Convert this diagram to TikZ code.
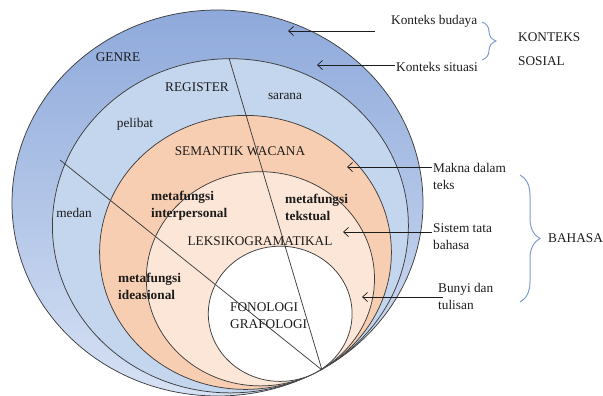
\documentclass[tikz,border=0pt]{standalone}
\usepackage{fontspec}
\setmainfont{Liberation Serif}
\usetikzlibrary{arrows.meta,decorations.pathreplacing}

\definecolor{genretop}{RGB}{142,169,219}
\definecolor{genrebot}{RGB}{214,225,244}
\definecolor{registerfill}{RGB}{196,213,238}
\definecolor{semantikfill}{RGB}{248,206,178}
\definecolor{leksikofill}{RGB}{252,230,215}
\definecolor{rimgray}{RGB}{62,62,62}
\definecolor{inkdark}{RGB}{28,28,28}
\definecolor{braceblue}{RGB}{128,158,204}

\begin{document}
\begin{tikzpicture}[x=1pt,y=-1pt,
  every node/.style={font=\fontsize{13.3}{17}\selectfont, text=inkdark, inner sep=1pt},
  ring/.style={draw=rimgray, line width=0.75pt},
  pointer/.style={draw=inkdark, line width=0.7pt, -{Straight Barb[length=5pt,width=9pt]}},
  bracket/.style={draw=braceblue, line width=1pt, decorate, decoration={brace, amplitude=#1}},
  meta/.style={font=\fontsize{13.3}{17}\selectfont\bfseries, align=left, anchor=west}]

\useasboundingbox (0,0) rectangle (603,396);
\clip (0,0) rectangle (603,396);

% nested rings
\draw[ring, top color=genretop, bottom color=genrebot] (217.5,203) ellipse (205.5pt and 193pt);
\draw[ring, fill=registerfill] (230.4,225.8) ellipse (178pt and 167.1pt);
\draw[ring, fill=semantikfill] (245.5,252.4) ellipse (145.9pt and 137pt);
\draw[ring, fill=leksikofill] (260.4,278.8) ellipse (114.1pt and 107.1pt);
\draw[ring, fill=white] (280.2,313.8) ellipse (71.9pt and 67.6pt);

% the two spokes
\coordinate (hub) at (322,370);
\coordinate (spoke-top) at (229,58);
\coordinate (spoke-left) at (60,160);
\draw[ring] (spoke-top) -- (hub);
\draw[ring] (spoke-left) -- (hub);

% labels in the rings
\node (genre) at (118,57) {GENRE};
\node (register) at (197,87) {REGISTER};
\node (sarana) at (285,96) {sarana};
\node (pelibat) at (135,124) {pelibat};
\node (semantik) at (240,151) {SEMANTIK WACANA};
\node (medan) at (74,213) {medan};
\node[meta] (interpersonal) at (150,205.5) {metafungsi\\interpersonal};
\node[meta] (tekstual) at (284,207) {metafungsi\\tekstual};
\node (leksiko) at (260,241) {LEKSIKOGRAMATIKAL};
\node[meta] (ideasional) at (117,286.5) {metafungsi\\ideasional};
\node[align=left, anchor=west] (fonologi) at (229,315.5) {FONOLOGI\\GRAFOLOGI};

% labels on the right
\node[anchor=west] (budaya) at (390,21.5) {Konteks budaya};
\node[anchor=west] (situasi) at (395,66.5) {Konteks situasi};
\node[align=left, anchor=west] (sosial) at (517,49) {KONTEKS\\[7pt]SOSIAL};
\node[align=left, anchor=west] (makna) at (432,176.5) {Makna dalam\\teks};
\node[align=left, anchor=west] (sistem) at (432,236.5) {Sistem tata\\bahasa};
\node[align=left, anchor=west] (bunyi) at (437,296) {Bunyi dan\\tulisan};
\node[anchor=west] (bahasa) at (547,238) {BAHASA};

% pointers
\coordinate (budaya-tail) at (375,31);
\coordinate (budaya-tip) at (288,31);
\coordinate (situasi-tip) at (317,65);
\coordinate (makna-tip) at (347,167);
\coordinate (sistem-tip) at (343,232);
\coordinate (bunyi-tip) at (362,297);
\draw[pointer] (budaya-tail) -- (budaya-tip);
\draw[pointer] (situasi.west |- situasi-tip) -- (situasi-tip);
\draw[pointer] (makna.west |- makna-tip) -- (makna-tip);
\draw[pointer] (sistem.west |- sistem-tip) -- (sistem-tip);
\draw[pointer, shorten <=-6pt] (bunyi.west |- bunyi-tip) -- (bunyi-tip);

% braces
\coordinate (sosial-top) at (482,22);
\coordinate (sosial-bot) at (482,60);
\coordinate (bahasa-top) at (520,175);
\coordinate (bahasa-bot) at (520,302);
\draw[bracket=14pt] (sosial-top) -- (sosial-bot);
\draw[bracket=20pt] (bahasa-top) -- (bahasa-bot);

\end{tikzpicture}
\end{document}
